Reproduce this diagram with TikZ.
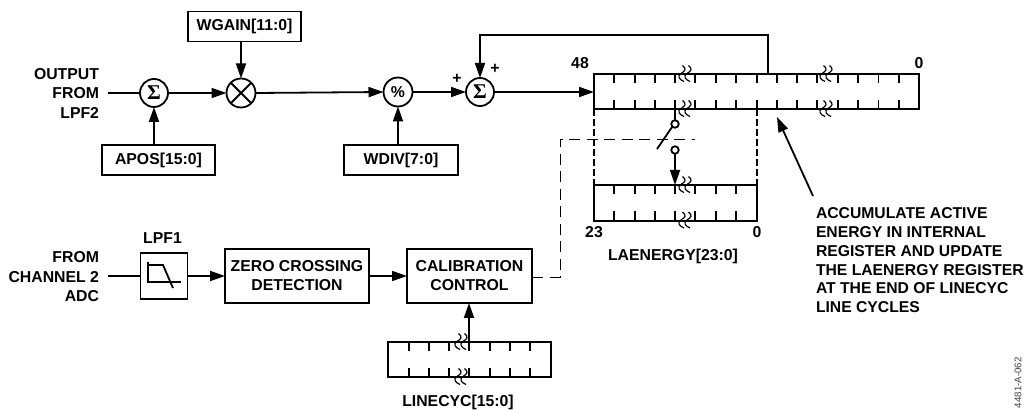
\documentclass[tikz,border=0pt]{standalone}
\usepackage{fontspec}
\setmainfont{Liberation Sans}
\newfontfamily\sigmafont{Liberation Serif}
\usetikzlibrary{arrows.meta}
\newcommand{\squiggle}[2]{%
  \foreach \dx in {0,6}{%
    \draw[squigline,shift={(#1+\dx-3,#2)}] (0.5,-8.5) .. controls (5,-5) and (3,-3) .. (-1,-0.5) .. controls (-5,2) and (-3,5.5) .. (2,7.5);
  }}
\newcommand{\ticks}[4]{% list, top y, bottom y, length
  \foreach \tx in {#1}{%
    \draw[wire] (\tx,#2) -- (\tx,#2+#4);
    \draw[wire] (\tx,#3) -- (\tx,#3-#4);
  }}
\tikzset{
  x=1pt,y=-1pt,
  every node/.style={font=\fontsize{15.8}{19}\selectfont\bfseries,inner sep=0pt,outer sep=0pt},
  wire/.style={line width=1.8pt,draw=black},
  squigline/.style={line width=1.2pt,draw=black},
  conn/.style={wire,-{Triangle[length=15pt,width=10pt]}},
  block/.style={wire,rectangle,align=center},
  junction/.style={wire,circle},
  caption/.style={align=right,font=\fontsize{15.8}{19.5}\selectfont\bfseries},
  note/.style={align=left,anchor=north west,font=\fontsize{15.7}{18.7}\selectfont\bfseries},
  regbox/.style={wire,rectangle},
  ctrlline/.style={line width=0.9pt,draw=black,dash pattern=on 11pt off 6.5pt},
  bank/.style={line width=1.8pt,draw=black,dash pattern=on 7pt off 3pt},
  switchline/.style={wire},
  sigmalabel/.style={font=\sigmafont\bfseries\fontsize{21}{21}\selectfont},
}
\begin{document}
\begin{tikzpicture}
\useasboundingbox (0,0) rectangle (1028,411);
% --- top chain
\node[caption,anchor=east] (inA) at (99,93) {OUTPUT\\FROM\\LPF2};
\coordinate (inAend) at (108,93);
\node[junction,minimum size=28pt,sigmalabel] (sum1) at (154,93) {Σ};
\node[junction,minimum size=29pt] (mult) at (241,93) {};
\draw[wire] (mult.north east) -- (mult.south west) (mult.north west) -- (mult.south east);
\node[block,minimum width=113pt,minimum height=30pt] (wgain) at (244.5,26.5) {WGAIN[11:0]};
\node[block,minimum width=113pt,minimum height=30pt] (apos) at (158.5,160) {APOS[15:0]};
\node[junction,minimum size=29pt] (pct) at (398,92) {\%};
\node[block,minimum width=114pt,minimum height=30pt] (wdiv) at (401,160) {WDIV[7:0]};
\node[junction,minimum size=28pt,sigmalabel] (sum2) at (480,92) {Σ};
\node (plusA) at (457,79) {+};
\node (plusB) at (495,69) {+};
\draw[wire] (inAend) -- (sum1.west);
\draw[conn] (apos.north -| sum1) -- (sum1.south);
\draw[conn] (sum1.east) -- (mult.west);
\draw[conn] (wgain.south -| mult) -- (mult.north);
\draw[conn] (mult.east) -- (pct.west);
\draw[conn] (pct.south |- wdiv.north) -- (pct.south);
\draw[conn] (pct.east) -- (sum2.west);
% --- internal register
\node[regbox,minimum width=325pt,minimum height=35pt] (reg) at (756.5,91.5) {};
\node (regHi) at (580,63) {48};
\node (regLo) at (919,63) {0};
\ticks{614,635,655,675,695,716,736,757,777,797,817,838,858,878.5,899}{74}{109}{9}
\squiggle{685}{74}\squiggle{685}{109}
\squiggle{826}{74}\squiggle{826}{109}
\draw[conn] (sum2.east) -- (reg.west |- sum2);
\coordinate (fbtap) at (768,74);
\draw[conn] (fbtap) -- (768,35) -| (sum2.north);
% --- LAENERGY register
\node[regbox,minimum width=163pt,minimum height=35.5pt] (lae) at (675.5,203) {};
\ticks{614,635,655,675,695,716,736}{185}{220.5}{9}
\squiggle{685}{185}\squiggle{685}{220.5}
\node (laeHi) at (594,232) {23};
\node (laeLo) at (757,232) {0};
\node (laeName) at (673,256) {LAENERGY[23:0]};
\draw[bank] (reg.south west) -- (lae.north west);
\draw[bank] (757,109) -- (lae.north east);
% --- switch
\coordinate (swtap) at (675,109);
\node[wire,circle,minimum size=7.5pt] (swa) at (675,124) {};
\node[wire,circle,minimum size=7.5pt] (swb) at (675,150) {};
\coordinate (swlever) at (657,149);
\coordinate (swin) at (675,185);
\draw[switchline] (swtap) -- (swa.north);
\draw[switchline] (swa.south west) -- (swlever);
\draw[conn] (swb.south) -- (swin);
% --- lower chain
\node[caption,anchor=east] (inB) at (99,277) {FROM\\CHANNEL 2\\ADC};
\coordinate (inBend) at (108,276);
\node (lpfName) at (162.5,238) {LPF1};
\node[block,minimum width=47pt,minimum height=46pt] (lpf) at (164,276) {};
\draw[wire] (148,262) -- (148,282) -- (181,282);
\draw[wire] (148,265) -- (163,265) -- (173,288);
\node[block,minimum width=144pt,minimum height=54pt] (zero) at (297,276) {ZERO CROSSING\\DETECTION};
\node[block,minimum width=125pt,minimum height=54pt] (cal) at (469.5,276) {CALIBRATION\\CONTROL};
\draw[wire] (inBend) -- (lpf.west);
\draw[conn] (lpf.east) -- (zero.west);
\draw[conn] (zero.east) -- (cal.west);
% --- LINECYC register
\node[regbox,minimum width=163pt,minimum height=35pt] (line) at (469.5,359.5) {};
\ticks{409,429,449,469,490,510,530}{342}{377}{9}
\squiggle{461}{342}\squiggle{461}{377}
\node (lineName) at (458,402) {LINECYC[15:0]};
\draw[conn] (line.north -| 469,0) -- (cal.south -| 469,0);
% --- control dashed
\coordinate (ctrlA) at (560,277);
\coordinate (ctrlB) at (560,139);
\coordinate (ctrlC) at (695,139);
\draw[ctrlline] (cal.east |- ctrlA) -- (ctrlA) -- (ctrlB) -- (ctrlC);
% --- note
\coordinate (noteTail) at (813,196);
\coordinate (noteTip) at (777,117);
\draw[conn] (noteTail) -- (noteTip);
\node[note] (note) at (816,208) {ACCUMULATE ACTIVE\\ENERGY IN INTERNAL\\REGISTER AND UPDATE\\THE LAENERGY REGISTER\\AT THE END OF LINECYC\\LINE CYCLES};
% --- reference id
\node[rotate=90,anchor=west,font=\fontsize{9.7}{9.7}\selectfont,text=black!75] (refid) at (1018,408) {4481-A-062};
\end{tikzpicture}
\end{document}
